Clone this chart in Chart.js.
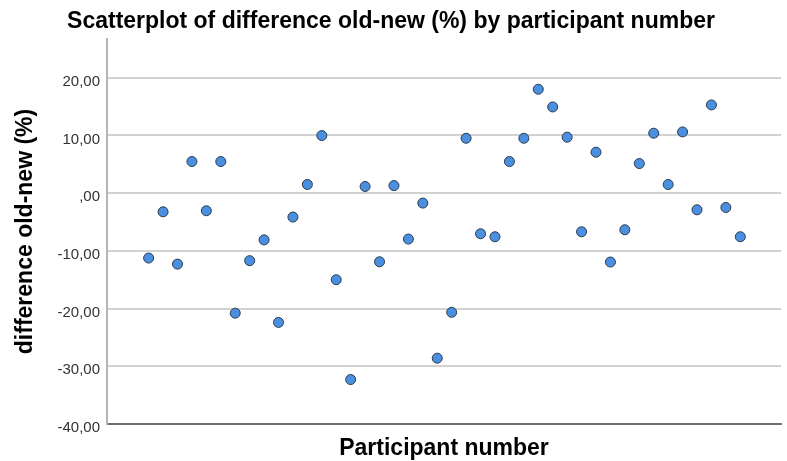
<!DOCTYPE html>
<html>
<head>
<meta charset="utf-8">
<script src="https://cdn.jsdelivr.net/npm/chart.js@4/dist/chart.umd.min.js"></script>
<style>
  html, body { margin: 0; padding: 0; background: #ffffff; }
  #wrap { width: 787px; height: 461px; }
</style>
</head>
<body>
<div id="wrap"><canvas id="c" width="787" height="461"></canvas></div>
<script>
const participants = [1,2,3,4,5,6,7,8,9,10,11,12,13,14,15,16,17,18,19,20,21,22,23,24,25,26,27,28,29,30,31,32,33,34,35,36,37,38,39,40,41,42];
const differences = [-11.25, -3.24, -12.3, 5.47, -3.06, 5.47, -20.8, -11.7, -8.1, -22.4, -4.15, 1.5, 9.97, -15.0, -32.3, 1.15, -11.9, 1.3, -7.96, -1.73, -28.6, -20.65, 9.5, -7.04, -7.56, 5.47, 9.5, 18.0, 14.93, 9.69, -6.7, 7.09, -11.94, -6.35, 5.12, 10.38, 1.49, 10.6, -2.89, 15.28, -2.49, -7.56];
const yTickValues = [-40, -30, -20, -10, 0, 10, 20];

const titleText = 'Scatterplot of difference old-new (%) by participant number';
const xTitle = 'Participant number';
const yTitle = 'difference old-new (%)';

function fmt(v) {
  if (v === 0) return ',00';
  return v.toFixed(2).replace('.', ',');
}

const points = participants.map((p, i) => ({ x: p, y: differences[i] }));
const FONT = "'Liberation Sans', Arial, sans-serif";

new Chart(document.getElementById('c'), {
  type: 'scatter',
  data: {
    datasets: [{
      data: points,
      backgroundColor: '#4b8fe0',
      borderColor: '#2a3a4c',
      borderWidth: 1,
      pointRadius: 5,
      pointHoverRadius: 5
    }]
  },
  options: {
    responsive: false,
    animation: false,
    devicePixelRatio: 1,
    layout: { padding: { left: 0, right: 5, top: 0, bottom: 0 } },
    plugins: {
      legend: { display: false },
      tooltip: { enabled: false },
      title: {
        display: true,
        text: titleText,
        color: '#000000',
        font: { family: FONT, size: 23, weight: 'bold', lineHeight: 1.2 },
        padding: { top: 7.5, bottom: 3.9 }
      }
    },
    scales: {
      x: {
        type: 'linear',
        min: -1.885,
        max: 44.82,
        afterFit: (s) => { s.height = 37; },
        ticks: { display: false },
        grid: { display: false, drawTicks: false },
        border: { display: true, color: '#6e6e6e', width: 2 },
        title: {
          display: true,
          text: xTitle,
          color: '#000000',
          font: { family: FONT, size: 23, weight: 'bold', lineHeight: 1 },
          padding: { top: 0, bottom: 1 }
        }
      },
      y: {
        type: 'linear',
        min: -40,
        max: 26.7,
        afterFit: (s) => { s.width = 107; },
        afterBuildTicks: (s) => { s.ticks = yTickValues.map(v => ({ value: v })); },
        ticks: {
          callback: (v) => fmt(v),
          color: '#333333',
          font: { family: FONT, size: 15 },
          padding: 7,
          labelOffset: 4
        },
        grid: { color: '#d2d2d2', lineWidth: 2, drawTicks: false },
        border: { display: true, color: '#b4b4b4', width: 2 },
        title: {
          display: true,
          text: yTitle,
          color: '#000000',
          font: { family: FONT, size: 23, weight: 'bold', lineHeight: 1.2 },
          padding: { top: 11.5, bottom: 0 }
        }
      }
    }
  }
});
</script>
</body>
</html>
